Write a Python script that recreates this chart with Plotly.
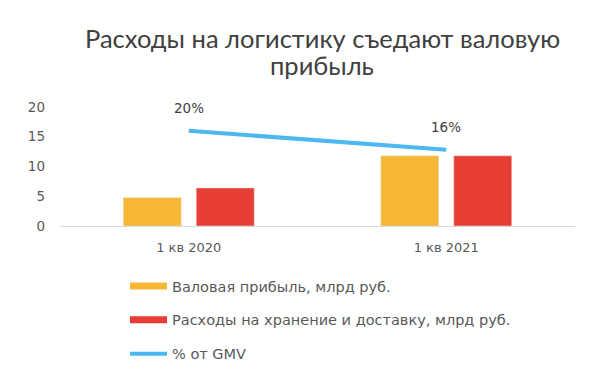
import plotly.graph_objects as go

categories = ["1 кв 2020", "1 кв 2021"]
gross_profit = [4.8, 11.8]
logistics_costs = [6.4, 11.8]
gmv_share = [20, 16]
gmv_labels = ["20%", "16%"]
y_ticks = [0, 5, 10, 15, 20]
title_lines = ["Расходы на логистику съедают валовую", "прибыль"]

names = ["Валовая прибыль, млрд руб.",
         "Расходы на хранение и доставку, млрд руб.",
         "% от GMV"]
colors = ["#F6B834", "#E83E36", "#4DB8F0"]

TFONT = "Lato"
FONT = "DejaVu Sans"
GRAY = "#595959"

# page body adds an 8px offset; layout compensates for it
L, R, T, B = 52, 25, 99, 154
PH = 372 - T - B

fig = go.Figure()
fig.add_trace(go.Bar(x=categories, y=gross_profit, name=names[0],
                     marker_color=colors[0], showlegend=False))
fig.add_trace(go.Bar(x=categories, y=logistics_costs, name=names[1],
                     marker_color=colors[1], showlegend=False))
fig.add_trace(go.Scatter(x=categories, y=gmv_share, name=names[2], yaxis="y2",
                         mode="lines", line=dict(color=colors[2], width=4),
                         cliponaxis=False, showlegend=False))

# legend entries (wide swatches like the original)
for i, (nm, col) in enumerate(zip(names, colors)):
    fig.add_trace(go.Scatter(x=[None], y=[None], mode="lines", name=nm,
                             line=dict(color=col, width=7 if i < 2 else 4),
                             legendgroup=f"g{i}", showlegend=True))

for cat, val, lab in zip(categories, gmv_share, gmv_labels):
    fig.add_annotation(x=cat, y=val, yref="y2", text=lab, showarrow=False,
                       yshift=23, yanchor="middle",
                       font=dict(size=13.5, color="#404040", family=FONT))

# two-line title as annotations (tighter line spacing than plotly's title)
for k, line in enumerate(title_lines):
    top_px = 13 + 27 * k
    fig.add_annotation(xref="paper", yref="paper", x=(314 - L) / 515,
                       y=(372 - B - top_px) / PH, xanchor="center", yanchor="top",
                       text=line, showarrow=False,
                       font=dict(size=25.5, color="#404040", family=TFONT))

fig.update_layout(
    width=592, height=372,
    margin=dict(l=L, r=R, t=T, b=B, autoexpand=False),
    plot_bgcolor="white", paper_bgcolor="white",
    font=dict(family=FONT, color=GRAY, size=13),
    barmode="group", bargap=0.433, bargroupgap=0.205,
    xaxis=dict(showline=True, linecolor="#D9D9D9", linewidth=1, ticks="",
               tickfont=dict(size=13, color=GRAY), ticklabelstandoff=9),
    yaxis=dict(range=[0, 20], tickvals=y_ticks, showgrid=False, zeroline=False,
               tickfont=dict(size=13.5, color=GRAY), ticklabelstandoff=14),
    yaxis2=dict(range=[0, 25], overlaying="y", side="right", visible=False),
    showlegend=True,
    legend=dict(x=(117 - L) / 515, xanchor="left", yref="container", y=1 - 262 / 372,
                yanchor="top", orientation="v", tracegroupgap=12,
                font=dict(size=14.5, color=GRAY, family=FONT),
                traceorder="grouped", itemwidth=37),
)

fig.write_html("out.html")
